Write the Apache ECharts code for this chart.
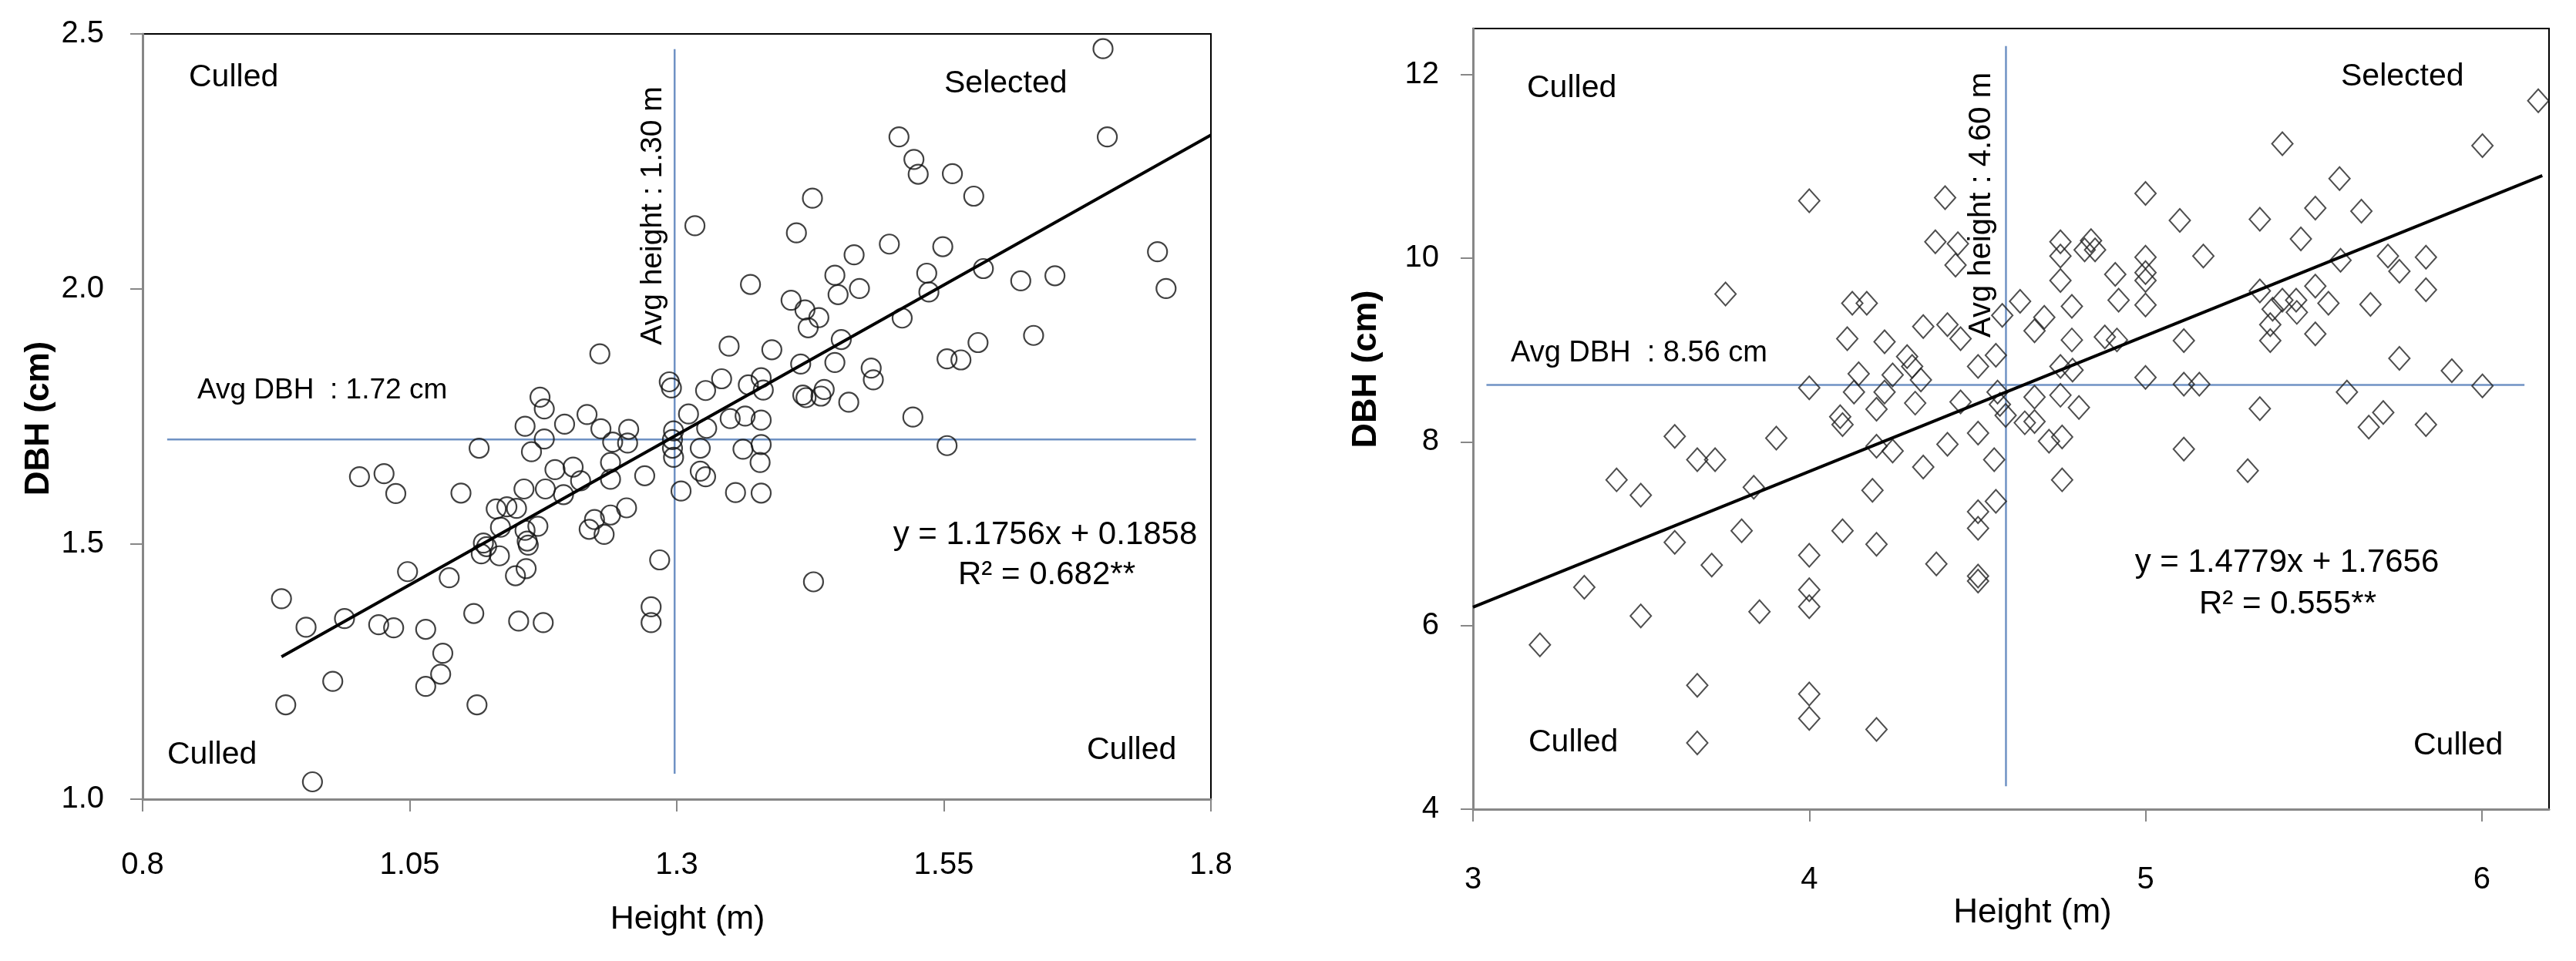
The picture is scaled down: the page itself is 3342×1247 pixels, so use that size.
<!DOCTYPE html>
<html>
<head>
<meta charset="utf-8">
<title>Height vs DBH</title>
<script src="https://cdn.jsdelivr.net/npm/echarts@6/dist/echarts.min.js"></script>
<style>
  html, body { margin: 0; padding: 0; background: #fff; }
  #chart { width: 3342px; height: 1247px; }
</style>
</head>
<body>
<div id="chart"></div>
<script>
// left panel: [height (m), DBH (cm)]
const leftTrees = [
  [0.930, 1.393], [0.934, 1.185], [0.953, 1.337], [0.959, 1.034], [0.978, 1.231], [0.989, 1.354],
  [1.003, 1.632], [1.026, 1.638], [1.021, 1.342], [1.035, 1.336], [1.037, 1.599], [1.048, 1.446],
  [1.065, 1.333], [1.065, 1.221], [1.081, 1.286], [1.079, 1.245], [1.087, 1.434], [1.098, 1.600],
  [1.110, 1.364], [1.113, 1.185], [1.115, 1.688], [1.119, 1.502], [1.122, 1.495], [1.117, 1.481],
  [1.131, 1.569], [1.134, 1.477], [1.141, 1.573], [1.150, 1.570], [1.135, 1.533], [1.149, 1.438],
  [1.152, 1.349], [1.158, 1.527], [1.159, 1.452], [1.160, 1.506], [1.161, 1.498], [1.157, 1.608],
  [1.158, 1.731], [1.164, 1.681], [1.170, 1.535], [1.172, 1.788], [1.176, 1.765], [1.176, 1.706],
  [1.175, 1.346], [1.177, 1.608], [1.186, 1.646], [1.195, 1.735], [1.194, 1.597], [1.203, 1.651],
  [1.210, 1.624], [1.216, 1.754], [1.218, 1.529], [1.223, 1.548], [1.228, 1.873], [1.229, 1.726],
  [1.232, 1.519], [1.238, 1.557], [1.238, 1.660], [1.238, 1.627], [1.240, 1.700], [1.253, 1.571],
  [1.255, 1.725], [1.254, 1.698], [1.270, 1.634], [1.276, 1.377], [1.276, 1.346], [1.284, 1.469],
  [1.293, 1.818], [1.295, 1.806], [1.297, 1.722], [1.296, 1.705], [1.296, 1.688], [1.297, 1.670],
  [1.304, 1.604], [1.311, 1.755], [1.317, 2.124], [1.322, 1.688], [1.322, 1.643], [1.328, 1.727],
  [1.327, 1.632], [1.327, 1.801], [1.342, 1.824], [1.349, 1.888], [1.350, 1.746], [1.355, 1.601],
  [1.362, 1.686], [1.364, 1.751], [1.369, 2.009], [1.367, 1.812], [1.379, 1.826], [1.379, 1.743],
  [1.379, 1.695], [1.378, 1.660], [1.379, 1.600], [1.381, 1.802], [1.389, 1.881], [1.412, 2.110],
  [1.407, 1.978], [1.416, 1.853], [1.418, 1.792], [1.420, 1.959], [1.423, 1.924], [1.427, 2.178],
  [1.428, 1.426], [1.433, 1.944], [1.421, 1.787], [1.435, 1.790], [1.438, 1.803], [1.448, 2.027],
  [1.451, 1.989], [1.448, 1.856], [1.454, 1.901], [1.461, 1.778], [1.466, 2.067], [1.471, 2.001],
  [1.482, 1.845], [1.484, 1.822], [1.499, 2.088], [1.508, 2.298], [1.511, 1.943], [1.521, 1.749],
  [1.522, 2.254], [1.526, 2.225], [1.534, 2.031], [1.536, 1.994], [1.549, 2.083], [1.553, 1.863],
  [1.553, 1.693], [1.558, 2.226], [1.566, 1.861], [1.578, 2.182], [1.582, 1.895], [1.587, 2.040],
  [1.622, 2.016], [1.634, 1.909], [1.654, 2.026], [1.699, 2.471], [1.703, 2.298], [1.750, 2.073],
  [1.758, 2.001]
]

// right panel: [height (m), DBH (cm)]
const rightTrees = [
  [3.199, 5.790], [3.331, 6.417], [3.427, 7.586], [3.499, 7.419], [3.499, 6.104], [3.600, 8.060],
  [3.600, 6.905], [3.667, 7.806], [3.720, 7.806], [3.751, 9.609], [3.710, 6.658], [3.667, 5.349],
  [3.667, 4.721], [3.799, 7.032], [3.835, 7.506], [3.852, 6.150], [3.902, 8.040], [4.000, 10.624],
  [4.000, 8.588], [4.000, 6.765], [4.000, 6.390], [4.000, 6.204], [4.000, 5.255], [4.000, 4.988],
  [4.092, 8.274], [4.099, 8.187], [4.099, 7.032], [4.113, 9.122], [4.128, 9.509], [4.133, 8.541],
  [4.147, 8.741], [4.171, 9.509], [4.188, 7.472], [4.200, 8.354], [4.200, 7.953], [4.200, 6.885],
  [4.200, 4.868], [4.224, 9.089], [4.224, 8.541], [4.248, 8.728], [4.248, 7.900], [4.291, 8.928],
  [4.306, 8.821], [4.315, 8.421], [4.332, 8.674], [4.339, 9.255], [4.339, 7.726], [4.375, 10.177],
  [4.378, 6.671], [4.404, 10.658], [4.411, 9.276], [4.411, 7.973], [4.435, 9.923], [4.442, 10.157],
  [4.450, 9.122], [4.450, 8.434], [4.502, 8.821], [4.502, 8.094], [4.502, 7.239], [4.502, 7.058],
  [4.502, 6.538], [4.502, 6.484], [4.550, 7.806], [4.555, 7.352], [4.555, 8.942], [4.560, 8.541],
  [4.567, 8.407], [4.574, 9.376], [4.584, 8.287], [4.627, 9.529], [4.641, 8.207], [4.670, 9.209],
  [4.670, 8.487], [4.670, 8.220], [4.699, 9.356], [4.713, 8.007], [4.747, 10.177], [4.747, 10.023],
  [4.747, 9.756], [4.747, 8.821], [4.747, 8.507], [4.752, 8.053], [4.752, 7.586], [4.781, 9.476],
  [4.781, 9.109], [4.783, 8.781], [4.802, 8.374], [4.819, 10.090], [4.838, 10.190], [4.850, 10.090],
  [4.879, 9.142], [4.910, 9.823], [4.920, 9.543], [4.915, 9.109], [5.000, 10.704], [5.000, 10.010],
  [5.000, 9.843], [5.000, 9.756], [5.000, 9.489], [5.000, 8.701], [5.102, 10.411], [5.114, 9.102],
  [5.114, 8.628], [5.114, 7.920], [5.160, 8.628], [5.172, 10.023], [5.304, 7.686], [5.340, 10.424],
  [5.340, 9.643], [5.340, 8.361], [5.371, 9.276], [5.371, 9.102], [5.378, 9.443], [5.407, 11.245],
  [5.407, 9.543], [5.448, 9.543], [5.450, 9.409], [5.462, 10.210], [5.505, 10.544], [5.505, 9.696],
  [5.505, 9.175], [5.544, 9.509], [5.577, 10.865], [5.580, 9.977], [5.599, 8.541], [5.642, 10.511],
  [5.664, 8.160], [5.669, 9.496], [5.707, 8.320], [5.721, 10.023], [5.755, 9.856], [5.755, 8.908],
  [5.834, 10.010], [5.834, 9.656], [5.834, 8.187], [5.911, 8.775], [6.002, 11.225], [6.002, 8.608],
  [6.168, 11.713]
]

// tick labels
const leftXTicks = [0.8, 1.05, 1.3, 1.55, 1.8]
const leftYTicks = [1.0, 1.5, 2.0, 2.5]
const rightXTicks = [3, 4, 5, 6]
const rightYTicks = [4, 6, 8, 10, 12]

// trend lines: [slope, intercept] and the x range they are drawn over
const leftFit = [1.1756, 0.1858]
const leftFitRange = [0.93, 1.8]
const rightFit = [1.4779, 1.7656]
const rightFitRange = [3, 6.18]

// average reference lines, as drawn in the figure
const leftAvgDbh = 1.705
const leftAvgDbhSpan = [0.823, 1.786]
const leftAvgHeight = 1.298
const leftAvgHeightSpan = [1.05, 2.47]
const rightAvgDbh = 8.62
const rightAvgDbhSpan = [3.04, 6.127]
const rightAvgHeight = 4.585
const rightAvgHeightSpan = [4.25, 12.31]

const FONT = 'Liberation Sans, Arial, sans-serif'
const AXIS_GRAY = '#878787'
const AVG_BLUE = '#6f92c4'

function fitLine(fit, range) {
  return range.map(function (x) {
    return [x, fit[0] * x + fit[1]]
  })
}

function text(x, y, str, size, extra) {
  const el = {
    type: 'text',
    x: x,
    y: y,
    silent: true,
    style: {
      text: str,
      fill: '#000',
      fontSize: size,
      fontFamily: FONT,
      align: 'left',
      verticalAlign: 'middle'
    }
  }
  if (extra && extra.style) Object.assign(el.style, extra.style)
  if (extra && extra.rotation) el.rotation = extra.rotation
  return el
}

const centered = { style: { align: 'center' } }
const vertical = { rotation: Math.PI / 2, style: { align: 'center' } }
const boldVertical = { rotation: Math.PI / 2, style: { align: 'center', fontWeight: 'bold' } }

function valueAxis(index, min, max, ticks, margin, extra) {
  const axis = {
    type: 'value',
    gridIndex: index,
    min: min,
    max: max,
    splitLine: { show: false },
    axisLine: { show: true, lineStyle: { color: AXIS_GRAY, width: 3 } },
    axisTick: { show: true, inside: false, length: 16, customValues: ticks, lineStyle: { color: AXIS_GRAY, width: 2 } },
    axisLabel: { customValues: ticks, margin: margin, color: '#000', fontSize: 40, fontFamily: FONT }
  }
  if (extra) Object.assign(axis.axisLabel, extra)
  return axis
}

function lineSeries(xi, data, color, width, z) {
  return {
    type: 'line',
    xAxisIndex: xi,
    yAxisIndex: xi,
    data: data,
    symbol: 'none',
    silent: true,
    z: z,
    lineStyle: { color: color, width: width }
  }
}

const chart = echarts.init(document.getElementById('chart'), null, { renderer: 'canvas' })
chart.setOption({
  animation: false,
  backgroundColor: '#fff',
  grid: [
    { left: 185, top: 44, width: 1386, height: 993, show: true, borderColor: '#000', borderWidth: 2, backgroundColor: 'transparent' },
    { left: 1911, top: 37, width: 1396, height: 1013, show: true, borderColor: '#000', borderWidth: 2, backgroundColor: 'transparent' }
  ],
  xAxis: [
    valueAxis(0, 0.8, 1.8, leftXTicks, 66),
    valueAxis(1, 3, 6.2, rightXTicks, 72)
  ],
  yAxis: [
    valueAxis(0, 1.0, 2.5, leftYTicks, 50, {
      formatter: function (v) {
        return v.toFixed(1)
      }
    }),
    valueAxis(1, 4, 12.5, rightYTicks, 44)
  ],
  series: [
    lineSeries(0, [[leftAvgDbhSpan[0], leftAvgDbh], [leftAvgDbhSpan[1], leftAvgDbh]], AVG_BLUE, 2.5, 1),
    lineSeries(0, [[leftAvgHeight, leftAvgHeightSpan[0]], [leftAvgHeight, leftAvgHeightSpan[1]]], AVG_BLUE, 2.5, 1),
    {
      type: 'scatter',
      xAxisIndex: 0,
      yAxisIndex: 0,
      data: leftTrees,
      symbol: 'circle',
      symbolSize: 25,
      silent: true,
      z: 3,
      itemStyle: { color: 'rgba(0,0,0,0)', borderColor: '#111', borderWidth: 2.2 }
    },
    lineSeries(0, fitLine(leftFit, leftFitRange), '#000', 4, 4),

    lineSeries(1, [[rightAvgDbhSpan[0], rightAvgDbh], [rightAvgDbhSpan[1], rightAvgDbh]], AVG_BLUE, 2.5, 1),
    lineSeries(1, [[rightAvgHeight, rightAvgHeightSpan[0]], [rightAvgHeight, rightAvgHeightSpan[1]]], AVG_BLUE, 2.5, 1),
    {
      type: 'scatter',
      xAxisIndex: 1,
      yAxisIndex: 1,
      data: rightTrees,
      symbol: 'diamond',
      symbolSize: [27, 30],
      silent: true,
      z: 3,
      itemStyle: { color: 'rgba(0,0,0,0)', borderColor: '#222', borderWidth: 2 }
    },
    lineSeries(1, fitLine(rightFit, rightFitRange), '#000', 4, 4)
  ],
  graphic: [
    // left panel
    text(51, 543, 'DBH (cm)', 44, boldVertical),
    text(892, 1193, 'Height (m)', 43, centered),
    text(245, 101, 'Culled', 41),
    text(1225, 109, 'Selected', 41),
    text(256, 507, 'Avg DBH  : 1.72 cm', 37),
    text(847, 280, 'Avg height : 1.30 m', 39, vertical),
    text(1356, 694, 'y = 1.1756x + 0.1858', 42, centered),
    text(1358, 746, 'R² = 0.682**', 42, centered),
    text(217, 980, 'Culled', 41),
    text(1410, 974, 'Culled', 41),
    // right panel
    text(1773, 479, 'DBH (cm)', 45, boldVertical),
    text(2637, 1185, 'Height (m)', 44, centered),
    text(1981, 115, 'Culled', 41),
    text(3037, 100, 'Selected', 41),
    text(1960, 459, 'Avg DBH  : 8.56 cm', 38),
    text(2571, 266, 'Avg height : 4.60 m', 40, vertical),
    text(2967, 730, 'y = 1.4779x + 1.7656', 42, centered),
    text(2968, 784, 'R² = 0.555**', 42, centered),
    text(1983, 964, 'Culled', 41),
    text(3131, 968, 'Culled', 41)
  ]
})
</script>
</body>
</html>
